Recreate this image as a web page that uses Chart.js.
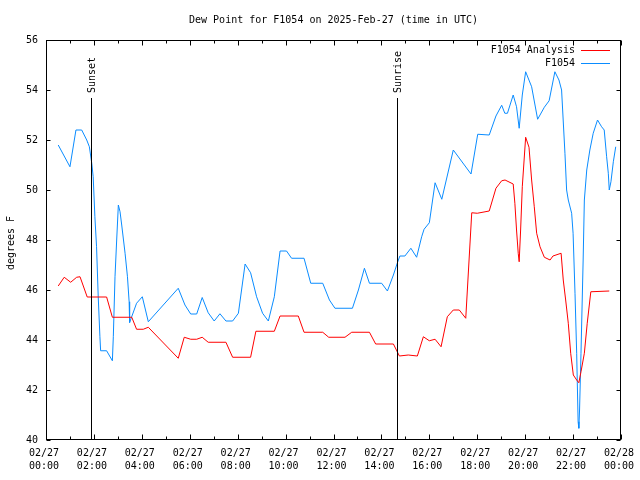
<!DOCTYPE html>
<html>
<head>
<meta charset="utf-8">
<script src="https://cdn.jsdelivr.net/npm/chart.js@4.4.1/dist/chart.umd.min.js"></script>
<style>
html,body{margin:0;padding:0;background:#fff;}
canvas{display:block;}
</style>
</head>
<body>
<canvas id="c" width="640" height="480"></canvas>
<script>
// ---- data (time in hours UTC on 2025-02-27) ----
const chartTitle = "Dew Point for F1054 on 2025-Feb-27 (time in UTC)";
const yAxisTitle = "degrees F";
const seriesLabels = ["F1054 Analysis", "F1054"];
const xTickHours = [0,2,4,6,8,10,12,14,16,18,20,22,24];
const xTickLabels = [["02/27","00:00"],["02/27","02:00"],["02/27","04:00"],["02/27","06:00"],["02/27","08:00"],["02/27","10:00"],["02/27","12:00"],["02/27","14:00"],["02/27","16:00"],["02/27","18:00"],["02/27","20:00"],["02/27","22:00"],["02/28","00:00"]];
const yTicks = [40,42,44,46,48,50,52,54,56];
const eventLabels = ["Sunset","Sunrise"];
const eventHours = [1.87, 14.66];

const analysisTimes = [0.51,0.76,1.03,1.28,1.42,1.72,2.53,2.77,3.58,3.78,4.06,4.27,5.52,5.77,6.04,6.29,6.52,6.77,7.51,7.79,8.54,8.76,9.53,9.77,10.53,10.77,11.55,11.8,12.48,12.76,13.5,13.76,14.5,14.75,15.12,15.5,15.75,16.0,16.24,16.49,16.75,17.0,17.25,17.52,17.77,18.0,18.5,18.78,19.02,19.16,19.5,19.57,19.64,19.71,19.75,19.81,19.88,20.02,20.16,20.27,20.38,20.48,20.62,20.8,21.04,21.16,21.5,21.59,21.69,21.8,21.9,22.01,22.15,22.24,22.33,22.47,22.59,22.74,23.51];
const analysisValues = [46.16,46.51,46.31,46.51,46.53,45.72,45.72,44.91,44.91,44.43,44.43,44.51,43.27,44.11,44.03,44.03,44.11,43.91,43.91,43.31,43.31,44.35,44.35,44.96,44.96,44.31,44.31,44.11,44.11,44.31,44.31,43.84,43.84,43.36,43.4,43.36,44.13,43.97,44.03,43.73,44.93,45.2,45.2,44.87,49.09,49.07,49.16,50.07,50.37,50.4,50.24,49.47,48.4,47.47,47.13,48.4,50.13,52.11,51.71,50.4,49.33,48.27,47.73,47.31,47.2,47.36,47.47,46.4,45.6,44.67,43.47,42.6,42.4,42.29,42.73,43.47,44.67,45.93,45.96];

const obsTimes = [0.51,1.0,1.25,1.49,1.7,1.81,1.91,1.97,2.04,2.11,2.18,2.25,2.28,2.53,2.77,2.81,2.88,2.95,3.02,3.09,3.16,3.3,3.4,3.47,3.49,3.78,4.02,4.27,5.52,5.8,6.04,6.29,6.52,6.77,7.02,7.26,7.51,7.79,8.03,8.31,8.54,8.79,9.04,9.28,9.53,9.77,10.04,10.25,10.77,11.05,11.55,11.83,12.06,12.79,13.04,13.29,13.5,14.01,14.25,14.5,14.66,14.77,14.98,15.23,15.47,15.68,15.78,16.0,16.24,16.52,17.0,17.74,18.02,18.5,18.78,19.02,19.15,19.26,19.5,19.64,19.75,19.88,20.02,20.27,20.52,20.8,21.0,21.24,21.41,21.52,21.66,21.73,21.8,21.94,22.0,22.08,22.15,22.21,22.24,22.27,22.33,22.42,22.47,22.57,22.7,22.84,23.02,23.19,23.3,23.4,23.47,23.51,23.58,23.68,23.78];
const obsValues = [51.8,50.93,52.4,52.4,52.0,51.73,51.07,50.53,48.93,47.73,45.73,44.13,43.57,43.57,43.17,44.13,46.53,48.0,49.4,49.13,48.6,47.47,46.53,45.53,44.7,45.47,45.73,44.73,46.07,45.4,45.04,45.04,45.7,45.09,44.76,45.05,44.76,44.76,45.07,47.04,46.69,45.73,45.07,44.76,45.73,47.56,47.56,47.27,47.27,46.27,46.27,45.6,45.27,45.27,46.0,46.87,46.27,46.27,45.96,46.6,47.07,47.36,47.36,47.67,47.31,48.13,48.43,48.69,50.29,49.63,51.6,50.64,52.23,52.2,52.96,53.39,53.07,53.07,53.8,53.33,52.47,53.8,54.73,54.13,52.83,53.31,53.57,54.73,54.4,54.0,51.47,50.0,49.6,49.07,48.27,45.87,43.47,40.73,40.47,41.2,43.47,47.2,49.6,50.8,51.6,52.27,52.8,52.53,52.4,51.33,50.67,50.0,50.33,51.13,51.73];

const FONT = "'DejaVu Sans Mono', 'Liberation Mono', monospace";
const RED = "#ff0000";
const BLUE = "#0a8cff";

function pts(t, v){ return t.map((x,i)=>({x:x, y:v[i]})); }

const decorPlugin = {
  id: 'decor',
  beforeDraw(chart){
    const ctx = chart.ctx;
    ctx.save();
    ctx.fillStyle = '#fff';
    ctx.fillRect(0,0,chart.width,chart.height);
    ctx.restore();
  },
  afterDatasetsDraw(chart){
    const ctx = chart.ctx, a = chart.chartArea;
    const xs = chart.scales.x, ys = chart.scales.y;
    ctx.save();
    ctx.strokeStyle = '#000';
    ctx.lineWidth = 1;
    // event lines
    ctx.fillStyle = '#000';
    ctx.font = "10px " + FONT;
    eventHours.forEach((h,i)=>{
      const x = Math.round(xs.getPixelForValue(h)) + 0.5;
      ctx.beginPath(); ctx.moveTo(x, 98); ctx.lineTo(x, a.bottom); ctx.stroke();
      ctx.save();
      ctx.translate(x+1, 93);
      ctx.rotate(-Math.PI/2);
      ctx.textAlign = 'left'; ctx.textBaseline = 'middle';
      ctx.fillText(eventLabels[i], 0, 0);
      ctx.restore();
    });
    // border
    const L = Math.round(a.left)+0.5, R = Math.round(a.right)-0.5, T = Math.round(a.top)+0.5, B = Math.round(a.bottom)-0.5;
    ctx.strokeRect(L, T, R-L, B-T);
    // x ticks (major 2h, minor 1h)
    for (let h=0; h<=24; h++){
      const x = Math.round(xs.getPixelForValue(h)) + 0.5;
      const len = (h%2===0) ? 5 : 3;
      ctx.beginPath();
      ctx.moveTo(x, B); ctx.lineTo(x, B-len);
      ctx.moveTo(x, T); ctx.lineTo(x, T+len);
      ctx.stroke();
    }
    yTicks.forEach(v=>{
      const y = Math.round(ys.getPixelForValue(v)) + 0.5;
      ctx.beginPath();
      ctx.moveTo(L, y); ctx.lineTo(L+4, y);
      ctx.moveTo(R, y); ctx.lineTo(R-4, y);
      ctx.stroke();
    });
    // title
    ctx.font = "10px " + FONT;
    ctx.textAlign = 'center'; ctx.textBaseline = 'middle';
    ctx.fillText(chartTitle, (a.left+a.right)/2, 20);
    // y title
    ctx.save();
    ctx.translate(11, 243);
    ctx.rotate(-Math.PI/2);
    ctx.fillText(yAxisTitle, 0, 0);
    ctx.restore();
    // legend
    ctx.textAlign = 'right';
    chart.data.datasets.forEach((ds,i)=>{
      const y = 50 + i*13;
      ctx.fillStyle = '#000';
      ctx.fillText(ds.label, 575, y);
      ctx.strokeStyle = ds.borderColor;
      ctx.beginPath(); ctx.moveTo(581, y+0.5); ctx.lineTo(610, y+0.5); ctx.stroke();
    });
    ctx.restore();
  }
};

new Chart(document.getElementById('c'), {
  type: 'line',
  data: {
    datasets: [
      { label: seriesLabels[0], data: pts(analysisTimes, analysisValues), borderColor: RED, borderWidth: 1, pointRadius: 0, tension: 0, fill: false },
      { label: seriesLabels[1], data: pts(obsTimes, obsValues), borderColor: BLUE, borderWidth: 1, pointRadius: 0, tension: 0, fill: false }
    ]
  },
  options: {
    responsive: false,
    animation: false,
    layout: { padding: { left: 0, right: 19, top: 40, bottom: 0 } },
    plugins: { legend: { display: false }, title: { display: false }, tooltip: { enabled: false } },
    scales: {
      x: {
        type: 'linear', min: 0, max: 24,
        afterFit(s){ s.height = 40; s.paddingLeft = 0; s.paddingRight = 0; },
        afterBuildTicks(s){ s.ticks = xTickHours.map(v=>({value:v})); },
        grid: { display: false, drawTicks: false },
        border: { display: false },
        ticks: {
          autoSkip: false, maxRotation: 0, minRotation: 0, padding: 7, labelOffset: -2,
          color: '#000', font: { family: FONT, size: 10, lineHeight: 1.3 },
          callback(v){ const i = xTickHours.indexOf(v); return i>=0 ? xTickLabels[i] : ''; }
        }
      },
      y: {
        min: 40, max: 56,
        afterFit(s){ s.width = 46; s.paddingTop = 0; s.paddingBottom = 0; },
        afterBuildTicks(s){ s.ticks = yTicks.map(v=>({value:v})); },
        grid: { display: false, drawTicks: false },
        border: { display: false },
        ticks: { padding: 8, color: '#000', font: { family: FONT, size: 10 } }
      }
    }
  },
  plugins: [decorPlugin]
});
</script>
</body>
</html>
